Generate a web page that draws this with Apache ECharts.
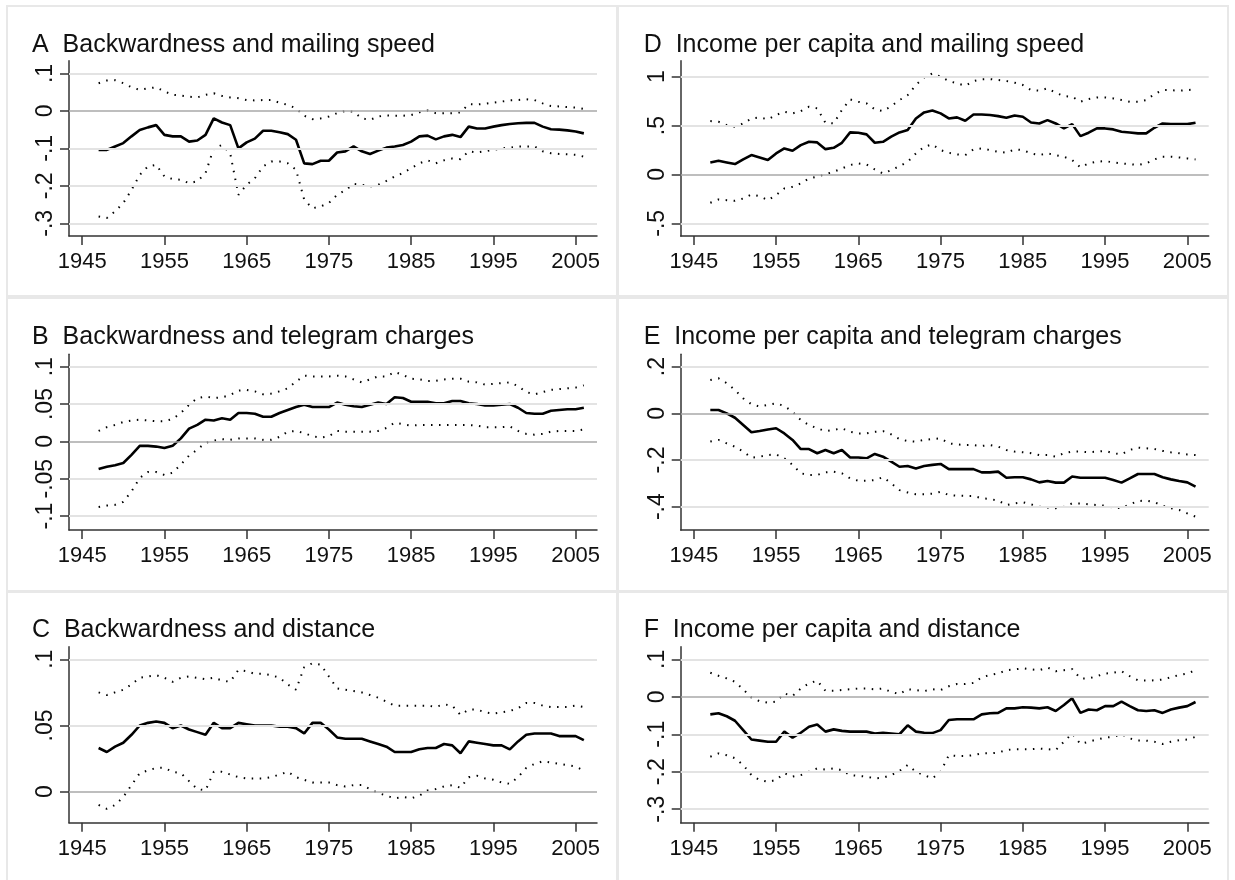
<!DOCTYPE html>
<html><head><meta charset="utf-8">
<script src="https://cdn.jsdelivr.net/npm/echarts@6/dist/echarts.min.js"></script>
<style>html,body{margin:0;padding:0;background:#fff}#c{width:1235px;height:880px}</style>
</head><body><div id="c"></div><script>
const years = [1947,1948,1949,1950,1951,1952,1953,1954,1955,1956,1957,1958,1959,1960,1961,1962,1963,1964,1965,1966,1967,1968,1969,1970,1971,1972,1973,1974,1975,1976,1977,1978,1979,1980,1981,1982,1983,1984,1985,1986,1987,1988,1989,1990,1991,1992,1993,1994,1995,1996,1997,1998,1999,2000,2001,2002,2003,2004,2005,2006];
const xTicks = [1945,1955,1965,1975,1985,1995,2005];

const titleA = 'A  Backwardness and mailing speed';
const A_est = [-0.104,-0.104,-0.095,-0.086,-0.068,-0.051,-0.044,-0.038,-0.064,-0.068,-0.068,-0.082,-0.079,-0.064,-0.020,-0.031,-0.038,-0.100,-0.084,-0.074,-0.053,-0.053,-0.057,-0.062,-0.077,-0.140,-0.142,-0.133,-0.133,-0.111,-0.108,-0.095,-0.108,-0.115,-0.106,-0.098,-0.095,-0.091,-0.082,-0.068,-0.066,-0.076,-0.068,-0.064,-0.070,-0.042,-0.047,-0.047,-0.042,-0.038,-0.035,-0.033,-0.032,-0.032,-0.042,-0.049,-0.050,-0.052,-0.055,-0.060];
const A_hi = [0.074,0.081,0.082,0.074,0.063,0.056,0.060,0.063,0.052,0.043,0.041,0.038,0.036,0.043,0.047,0.040,0.036,0.034,0.029,0.028,0.029,0.029,0.022,0.016,0.007,-0.013,-0.022,-0.020,-0.015,-0.006,0.000,-0.002,-0.020,-0.024,-0.015,-0.012,-0.013,-0.013,-0.011,-0.004,0.001,-0.006,-0.006,-0.006,-0.004,0.018,0.017,0.019,0.022,0.025,0.028,0.029,0.031,0.029,0.020,0.013,0.012,0.010,0.009,0.005];
const A_lo = [-0.282,-0.286,-0.268,-0.246,-0.211,-0.171,-0.148,-0.144,-0.175,-0.182,-0.184,-0.193,-0.188,-0.166,-0.100,-0.091,-0.113,-0.224,-0.197,-0.180,-0.148,-0.135,-0.135,-0.140,-0.157,-0.237,-0.260,-0.255,-0.246,-0.224,-0.212,-0.195,-0.197,-0.202,-0.197,-0.187,-0.175,-0.166,-0.153,-0.140,-0.132,-0.140,-0.132,-0.127,-0.129,-0.108,-0.111,-0.108,-0.104,-0.100,-0.098,-0.095,-0.095,-0.095,-0.108,-0.113,-0.115,-0.116,-0.117,-0.122];
const A_yTicks = [-0.3,-0.2,-0.1,0,0.1];

const titleB = 'B  Backwardness and telegram charges';
const B_est = [-0.037,-0.034,-0.032,-0.029,-0.018,-0.006,-0.006,-0.007,-0.009,-0.006,0.004,0.017,0.022,0.029,0.028,0.031,0.029,0.038,0.038,0.037,0.033,0.033,0.038,0.042,0.046,0.049,0.046,0.046,0.046,0.052,0.049,0.047,0.046,0.049,0.052,0.050,0.059,0.058,0.053,0.053,0.053,0.051,0.051,0.054,0.054,0.051,0.050,0.048,0.048,0.049,0.050,0.045,0.038,0.037,0.037,0.041,0.042,0.043,0.043,0.045];
const B_hi = [0.014,0.019,0.022,0.026,0.028,0.029,0.028,0.027,0.027,0.030,0.038,0.049,0.058,0.060,0.058,0.059,0.062,0.068,0.069,0.067,0.063,0.064,0.067,0.071,0.080,0.088,0.087,0.087,0.087,0.088,0.087,0.083,0.079,0.083,0.087,0.087,0.093,0.089,0.084,0.083,0.081,0.081,0.083,0.084,0.084,0.080,0.079,0.076,0.077,0.078,0.079,0.074,0.066,0.063,0.066,0.069,0.070,0.071,0.072,0.075];
const B_lo = [-0.088,-0.086,-0.085,-0.081,-0.067,-0.049,-0.041,-0.041,-0.045,-0.042,-0.031,-0.019,-0.011,-0.002,0.001,0.003,0.002,0.004,0.004,0.004,0.002,0.002,0.006,0.013,0.014,0.011,0.007,0.005,0.007,0.014,0.013,0.013,0.013,0.013,0.014,0.018,0.025,0.023,0.021,0.022,0.022,0.022,0.022,0.022,0.022,0.022,0.021,0.019,0.019,0.019,0.020,0.014,0.010,0.009,0.010,0.013,0.014,0.014,0.014,0.016];
const B_yTicks = [-0.1,-0.05,0,0.05,0.1];

const titleC = 'C  Backwardness and distance';
const C_est = [0.033,0.030,0.034,0.037,0.043,0.050,0.052,0.053,0.052,0.048,0.050,0.047,0.045,0.043,0.052,0.048,0.048,0.052,0.051,0.050,0.050,0.050,0.049,0.049,0.048,0.044,0.052,0.052,0.047,0.041,0.040,0.040,0.040,0.038,0.036,0.034,0.030,0.030,0.030,0.032,0.033,0.033,0.036,0.035,0.029,0.038,0.037,0.036,0.035,0.035,0.032,0.038,0.043,0.044,0.044,0.044,0.042,0.042,0.042,0.039];
const C_hi = [0.075,0.073,0.075,0.077,0.081,0.086,0.087,0.088,0.086,0.083,0.086,0.087,0.086,0.085,0.086,0.084,0.083,0.092,0.091,0.089,0.089,0.088,0.086,0.081,0.077,0.094,0.097,0.096,0.087,0.078,0.077,0.076,0.075,0.073,0.071,0.068,0.065,0.065,0.065,0.065,0.065,0.064,0.066,0.065,0.058,0.062,0.062,0.060,0.059,0.060,0.061,0.063,0.067,0.067,0.065,0.064,0.064,0.064,0.065,0.064];
const C_lo = [-0.010,-0.013,-0.010,-0.004,0.005,0.014,0.016,0.018,0.018,0.015,0.014,0.008,0.002,0.001,0.015,0.015,0.013,0.011,0.010,0.010,0.010,0.011,0.013,0.015,0.011,0.009,0.007,0.007,0.007,0.005,0.004,0.005,0.005,0.002,-0.001,-0.003,-0.005,-0.004,-0.005,-0.003,0.001,0.002,0.004,0.005,0.003,0.011,0.012,0.010,0.009,0.007,0.006,0.011,0.018,0.021,0.023,0.022,0.021,0.020,0.019,0.016];
const C_yTicks = [0,0.05,0.1];

const titleD = 'D  Income per capita and mailing speed';
const D_est = [0.123,0.140,0.123,0.106,0.154,0.198,0.174,0.147,0.215,0.266,0.242,0.300,0.334,0.328,0.259,0.273,0.324,0.430,0.427,0.410,0.324,0.334,0.386,0.430,0.454,0.573,0.635,0.655,0.625,0.573,0.584,0.549,0.614,0.614,0.608,0.597,0.580,0.604,0.590,0.532,0.522,0.556,0.522,0.471,0.515,0.392,0.427,0.471,0.471,0.461,0.437,0.430,0.420,0.420,0.478,0.522,0.515,0.515,0.515,0.529];
const D_hi = [0.546,0.539,0.505,0.488,0.522,0.573,0.584,0.563,0.608,0.642,0.625,0.648,0.693,0.676,0.529,0.522,0.659,0.768,0.744,0.727,0.666,0.648,0.700,0.761,0.812,0.915,0.993,1.034,1.000,0.956,0.932,0.908,0.956,0.973,0.976,0.966,0.956,0.939,0.915,0.863,0.857,0.881,0.836,0.802,0.795,0.744,0.771,0.788,0.788,0.778,0.761,0.744,0.744,0.761,0.823,0.863,0.863,0.857,0.863,0.870];
const D_lo = [-0.290,-0.256,-0.263,-0.270,-0.246,-0.205,-0.222,-0.263,-0.212,-0.143,-0.126,-0.092,-0.041,-0.024,0.003,0.027,0.061,0.096,0.113,0.102,0.051,0.010,0.044,0.085,0.130,0.215,0.283,0.307,0.249,0.222,0.205,0.198,0.256,0.266,0.249,0.232,0.222,0.256,0.249,0.215,0.198,0.215,0.198,0.181,0.147,0.072,0.113,0.130,0.137,0.123,0.113,0.106,0.096,0.113,0.154,0.181,0.181,0.174,0.164,0.154];
const D_yTicks = [-0.5,0,0.5,1];

const titleE = 'E  Income per capita and telegram charges';
const E_est = [0.014,0.014,0.000,-0.019,-0.050,-0.081,-0.076,-0.069,-0.064,-0.086,-0.114,-0.153,-0.153,-0.171,-0.157,-0.171,-0.157,-0.189,-0.189,-0.193,-0.174,-0.186,-0.207,-0.229,-0.226,-0.236,-0.226,-0.221,-0.217,-0.239,-0.239,-0.239,-0.239,-0.253,-0.253,-0.250,-0.276,-0.274,-0.274,-0.283,-0.296,-0.290,-0.297,-0.297,-0.271,-0.276,-0.276,-0.276,-0.276,-0.286,-0.297,-0.279,-0.260,-0.260,-0.260,-0.274,-0.283,-0.290,-0.296,-0.314];
const E_hi = [0.143,0.150,0.129,0.100,0.064,0.039,0.029,0.036,0.043,0.031,0.007,-0.029,-0.050,-0.064,-0.076,-0.071,-0.064,-0.079,-0.086,-0.086,-0.079,-0.076,-0.090,-0.110,-0.119,-0.121,-0.114,-0.110,-0.107,-0.129,-0.133,-0.136,-0.136,-0.140,-0.136,-0.143,-0.157,-0.164,-0.167,-0.171,-0.179,-0.179,-0.186,-0.171,-0.164,-0.164,-0.167,-0.164,-0.161,-0.171,-0.176,-0.157,-0.147,-0.150,-0.153,-0.161,-0.167,-0.171,-0.176,-0.179];
const E_lo = [-0.121,-0.114,-0.129,-0.143,-0.164,-0.190,-0.186,-0.179,-0.176,-0.193,-0.221,-0.257,-0.264,-0.264,-0.253,-0.250,-0.257,-0.279,-0.289,-0.289,-0.286,-0.274,-0.300,-0.329,-0.339,-0.347,-0.347,-0.344,-0.336,-0.350,-0.353,-0.354,-0.354,-0.364,-0.367,-0.374,-0.393,-0.386,-0.381,-0.390,-0.400,-0.404,-0.407,-0.400,-0.386,-0.386,-0.390,-0.393,-0.396,-0.404,-0.407,-0.390,-0.376,-0.374,-0.381,-0.396,-0.407,-0.414,-0.429,-0.443];
const E_yTicks = [-0.4,-0.2,0,0.2];

const titleF = 'F  Income per capita and distance';
const F_est = [-0.047,-0.044,-0.052,-0.064,-0.089,-0.114,-0.117,-0.120,-0.120,-0.093,-0.109,-0.096,-0.080,-0.074,-0.093,-0.087,-0.091,-0.093,-0.093,-0.093,-0.098,-0.096,-0.098,-0.100,-0.076,-0.093,-0.096,-0.097,-0.089,-0.062,-0.060,-0.060,-0.060,-0.047,-0.044,-0.043,-0.031,-0.031,-0.028,-0.029,-0.031,-0.028,-0.038,-0.022,-0.004,-0.043,-0.034,-0.036,-0.025,-0.025,-0.013,-0.025,-0.036,-0.038,-0.036,-0.043,-0.034,-0.029,-0.025,-0.014];
const F_hi = [0.064,0.056,0.049,0.040,0.020,-0.002,-0.012,-0.016,-0.013,0.009,0.002,0.022,0.036,0.043,0.016,0.016,0.018,0.020,0.022,0.022,0.020,0.022,0.013,0.007,0.020,0.018,0.015,0.020,0.018,0.028,0.034,0.034,0.037,0.052,0.058,0.062,0.071,0.073,0.076,0.073,0.071,0.078,0.068,0.071,0.074,0.049,0.049,0.055,0.062,0.064,0.068,0.055,0.044,0.043,0.044,0.046,0.052,0.058,0.062,0.071];
const F_lo = [-0.160,-0.151,-0.156,-0.164,-0.182,-0.209,-0.222,-0.227,-0.222,-0.204,-0.213,-0.209,-0.200,-0.191,-0.194,-0.191,-0.196,-0.209,-0.211,-0.213,-0.218,-0.216,-0.209,-0.198,-0.182,-0.200,-0.209,-0.218,-0.200,-0.156,-0.158,-0.158,-0.156,-0.151,-0.151,-0.149,-0.142,-0.140,-0.140,-0.140,-0.138,-0.140,-0.142,-0.120,-0.098,-0.126,-0.120,-0.114,-0.109,-0.107,-0.100,-0.111,-0.117,-0.117,-0.120,-0.126,-0.120,-0.116,-0.114,-0.107];
const F_yTicks = [-0.3,-0.2,-0.1,0,0.1];

// layout (pixels) and axis ranges
const panels = [
  {title:titleA, est:A_est, hi:A_hi, lo:A_lo, yt:A_yTicks, ymin:-0.334, ymax:0.134, box:[7,6,610,290], left:69, top:60.7, h:175.3, ty:33},
  {title:titleB, est:B_est, hi:B_hi, lo:B_lo, yt:B_yTicks, ymin:-0.1187, ymax:0.1166, box:[7,298,610,293], left:69, top:354.3, h:175.7, ty:325},
  {title:titleC, est:C_est, hi:C_hi, lo:C_lo, yt:C_yTicks, ymin:-0.0234, ymax:0.1095, box:[7,592,610,290], left:69, top:646.7, h:176, ty:618},
  {title:titleD, est:D_est, hi:D_hi, lo:D_lo, yt:D_yTicks, ymin:-0.63, ymax:1.164, box:[618,6,610,290], left:680.7, top:60.7, h:175.3, ty:33},
  {title:titleE, est:E_est, hi:E_hi, lo:E_lo, yt:E_yTicks, ymin:-0.5, ymax:0.253, box:[618,298,610,293], left:680.7, top:354.3, h:175.7, ty:325},
  {title:titleF, est:F_est, hi:F_hi, lo:F_lo, yt:F_yTicks, ymin:-0.336, ymax:0.1336, box:[618,592,610,290], left:680.7, top:646.7, h:176, ty:618}
];
const plotW = 528;
const FONT = 'Liberation Sans, Arial, sans-serif';
const fmt = v => { if (v === 0) return '0'; const s = String(Math.abs(v)).replace(/^0\./, '.'); return (v < 0 ? '-' : '') + s; };
const pairs = arr => arr.map((v, i) => [years[i], v]);

const option = {
  animation: false,
  backgroundColor: '#ffffff',
  title: [], grid: [], xAxis: [], yAxis: [], series: [], graphic: []
};
panels.forEach((p, i) => {
  option.graphic.push({type:'rect', shape:{x:p.box[0], y:p.box[1], width:p.box[2], height:p.box[3]}, style:{fill:'#fff', stroke:'#e8e8e8', lineWidth:2}, z:-10});
  option.title.push({text:p.title, left:p.left - 37, top:p.ty, padding:0, textStyle:{fontFamily:FONT, fontSize:25, fontWeight:'normal', color:'#111'}});
  option.grid.push({left:p.left, top:p.top, width:plotW, height:p.h, containLabel:false});
  option.xAxis.push({type:'value', gridIndex:i, min:1943.4, max:2007.6,
    axisLine:{show:true, onZero:false, lineStyle:{color:'#333', width:1.5}},
    axisTick:{show:true, length:9, customValues:xTicks, lineStyle:{color:'#333', width:1.5}},
    axisLabel:{show:true, customValues:xTicks, margin:15, fontFamily:FONT, fontSize:22, color:'#111', formatter:v=>String(v)},
    splitLine:{show:false}});
  option.yAxis.push({type:'value', gridIndex:i, min:p.ymin, max:p.ymax,
    axisLine:{show:true, onZero:false, lineStyle:{color:'#333', width:1.5}},
    axisTick:{show:true, length:9, customValues:p.yt, lineStyle:{color:'#333', width:1.5}},
    axisLabel:{show:true, customValues:p.yt, rotate:90, margin:12, fontFamily:FONT, fontSize:23, color:'#111', formatter:fmt},
    splitLine:{show:false}});
  option.series.push({type:'line', xAxisIndex:i, yAxisIndex:i, data:pairs(p.est), showSymbol:false, z:1,
    lineStyle:{width:0, opacity:0}, silent:true,
    markLine:{silent:true, symbol:['none','none'], label:{show:false}, animation:false,
      data:p.yt.map(v => ({yAxis:v, lineStyle:{color: v === 0 ? '#a9a9a9' : '#e3e3e3', width: v === 0 ? 1.6 : 2, type:'solid'}}))}});
  option.series.push({type:'line', xAxisIndex:i, yAxisIndex:i, data:pairs(p.hi), showSymbol:false, z:3,
    lineStyle:{color:'#000', width:2, type:[1.5,6.5]}});
  option.series.push({type:'line', xAxisIndex:i, yAxisIndex:i, data:pairs(p.lo), showSymbol:false, z:3,
    lineStyle:{color:'#000', width:2, type:[1.5,6.5]}});
  option.series.push({type:'line', xAxisIndex:i, yAxisIndex:i, data:pairs(p.est), showSymbol:false, z:4,
    lineStyle:{color:'#000', width:2.6}});
});
const chart = echarts.init(document.getElementById('c'), null, {renderer:'canvas'});
chart.setOption(option);
</script></body></html>
